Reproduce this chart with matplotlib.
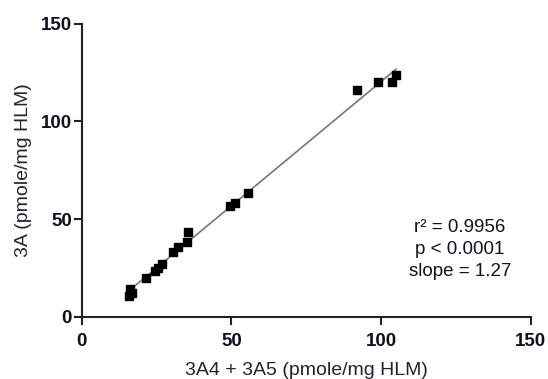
import matplotlib.pyplot as plt
import numpy as np

# 3A4 + 3A5 (x) vs 3A (y), pmole/mg HLM
x_vals = [16.3, 16.8, 15.9, 21.5, 24.6, 25.6, 26.8, 30.5, 32.2, 35.1, 35.6,
          49.6, 51.1, 55.4, 92.0, 98.9, 103.6, 105.0]
y_vals = [14.3, 12.3, 10.9, 19.8, 23.6, 25.2, 27.0, 33.1, 35.6, 38.4, 43.5,
          56.6, 58.3, 63.6, 116.2, 120.3, 120.0, 123.8]
x_ticks = [0, 50, 100, 150]
y_ticks = [0, 50, 100, 150]
stats_text = "r\u00b2 = 0.9956\np < 0.0001\nslope = 1.27"

plt.rcParams["font.family"] = ["Liberation Sans", "DejaVu Sans"]

fig = plt.figure(figsize=(5.48, 3.79), dpi=100)
ax = fig.add_axes([0.149, 0.1636, 0.8195, 0.774])

x = np.array(x_vals)
y = np.array(y_vals)
m, b = np.polyfit(x, y, 1)
xf = np.array([x.min(), x.max()])
ax.plot(xf, m * xf + b, color="#777777", lw=1.2, zorder=2)
ax.plot(x, y, "s", color="black", ms=5.2, zorder=3)

ax.set_xlim(0, 150)
ax.set_ylim(0, 150)
ax.set_xticks(x_ticks)
ax.set_yticks(y_ticks)
ax.tick_params(width=1.5, length=5.5, labelsize=13.5, color="#222222")
ax.tick_params(axis="y", pad=1.5)
ax.tick_params(axis="x", pad=6)
for lab in ax.get_xticklabels() + ax.get_yticklabels():
    lab.set_fontweight("bold")
    lab.set_color("#111122")
for s in ("top", "right"):
    ax.spines[s].set_visible(False)
for s in ("left", "bottom"):
    ax.spines[s].set_linewidth(1.5)
    ax.spines[s].set_color("#222222")

ax.set_xlabel("3A4 + 3A5 (pmole/mg HLM)", fontsize=14, color="#222233", labelpad=9)
ax.set_ylabel("3A (pmole/mg HLM)", fontsize=14, color="#222233", labelpad=6)

ax.text(126.4, 34.5, stats_text, ha="center", va="center", fontsize=13.5,
        color="#111122", linespacing=1.35)

fig.savefig("out.png", dpi=100)
